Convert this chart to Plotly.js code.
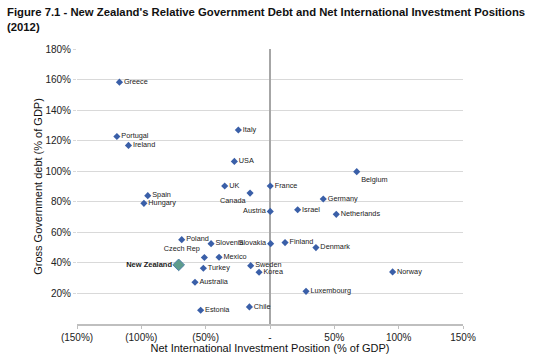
<!DOCTYPE html>
<html>
<head>
<meta charset="utf-8">
<script src="https://cdn.plot.ly/plotly-3.0.1.min.js"></script>
<style>html,body{margin:0;padding:0;background:#fff;}#chart{width:550px;height:361px;}</style>
</head>
<body>
<div id="chart"></div>
<script>
// Data
const countries = ["Greece","Portugal","Ireland","Italy","USA","UK","Canada","France","Belgium","Germany","Austria","Israel","Netherlands","Spain","Hungary","Poland","Slovenia","Slovakia","Czech Rep","Mexico","Turkey","Sweden","Korea","Australia","Estonia","Chile","Finland","Denmark","Norway","Luxembourg"];
const niip = [-117,-119,-110,-24.6,-27.7,-35.2,-15.5,0.2,67.4,41.4,0.2,21.5,51.5,-95,-98,-68.6,-45.8,0.5,-51,-39.6,-51.8,-15,-8.5,-58.3,-53.9,-16,11.7,35.7,95.3,28];
const debt = [158.3,122.7,116.9,127,106.4,90.3,85.7,90.3,99.7,81.8,73.7,74.8,71.8,84,79,55.2,52.6,52.6,43.5,43.7,36.5,38.2,33.9,27.3,9,11.2,53.3,50,34.1,21.4];

const nzName = ["New Zealand"];
const nzNiip = [-71];
const nzDebt = [38.7];

const xTickVals = [-150,-100,-50,0,50,100,150];
const xTickText = ["(150%)","(100%)","(50%)","-","50%","100%","150%"];
const yTickVals = [20,40,60,80,100,120,140,160,180];
const yTickText = ["20%","40%","60%","80%","100%","120%","140%","160%","180%"];

// label placement (style)
const labelPlace = {"Canada":"bottom left","Austria":"middle left","Slovakia":"middle left","Czech Rep":"top left","Belgium":"bottom right"};
const textPos = countries.map(c => labelPlace[c] || "middle right");

const FONT = "Arial, Liberation Sans, sans-serif";

const traces = [
  {
    type: "scatter", mode: "markers+text",
    x: niip, y: debt, text: countries, textposition: textPos,
    marker: {symbol: "diamond", size: 5.5, color: "#3A5FA8"},
    textfont: {family: FONT, size: 7.3, color: "#222"},
    cliponaxis: false, hoverinfo: "skip"
  },
  {
    type: "scatter", mode: "markers+text",
    x: nzNiip, y: nzDebt, text: nzName.map(t => "<b>" + t + "</b>"), textposition: "middle left",
    marker: {symbol: "diamond", size: 9, color: "#5E9C8C", line: {color: "#4F7FA8", width: 1}},
    textfont: {family: FONT, size: 7.5, color: "#222"},
    cliponaxis: false, hoverinfo: "skip"
  }
];

const layout = {
  width: 550, height: 361,
  margin: {l: 77, r: 87, t: 49, b: 37},
  paper_bgcolor: "#fff", plot_bgcolor: "#fff",
  showlegend: false,
  font: {family: FONT, color: "#222"},
  annotations: [{
    text: "<b>Figure 7.1 - New Zealand's Relative Government Debt and Net International Investment Positions<br>(2012)</b>",
    xref: "paper", yref: "paper", x: (5 - 77) / 386, y: 1 + (49 - 4) / 275,
    xanchor: "left", yanchor: "top", align: "left", showarrow: false,
    font: {family: FONT, size: 11.3, color: "#111"}
  }],
  xaxis: {
    range: [-150, 150], tickvals: xTickVals, ticktext: xTickText,
    showgrid: false, zeroline: true, zerolinecolor: "#A6A6A6", zerolinewidth: 1.5,
    showline: true, linecolor: "#BFBFBF", linewidth: 1.5, ticks: "outside", ticklen: 3, tickcolor: "#BFBFBF",
    tickfont: {size: 10, color: "#222"},
    title: {text: "Net International Investment Position (% of GDP)", font: {size: 11, color: "#111"}, standoff: 3},
    fixedrange: true
  },
  yaxis: {
    range: [0, 180], tickvals: yTickVals, ticktext: yTickText,
    showgrid: true, gridcolor: "#D9D9D9", gridwidth: 1, zeroline: false, showline: false,
    ticks: "outside", ticklen: 3, tickcolor: "#D9D9D9",
    tickfont: {size: 10, color: "#222"},
    title: {text: "Gross Government debt (% of GDP)", font: {size: 11, color: "#111"}, standoff: 0},
    fixedrange: true
  }
};

Plotly.newPlot("chart", traces, layout, {displayModeBar: false, staticPlot: true});
</script>
</body>
</html>
